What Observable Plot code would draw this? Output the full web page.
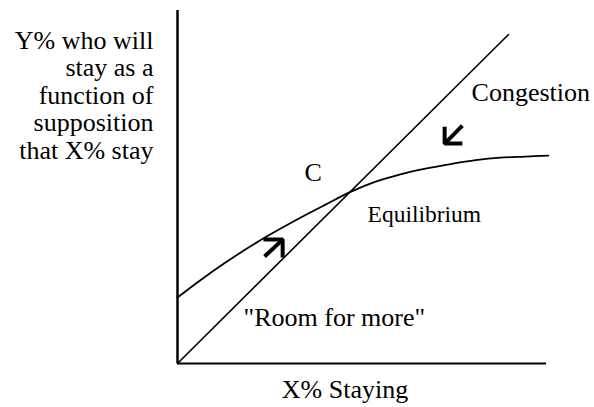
<!DOCTYPE html>
<html><head><meta charset="utf-8">
<script src="https://cdn.jsdelivr.net/npm/d3@7"></script>
<script src="https://cdn.jsdelivr.net/npm/@observablehq/plot@0.6"></script>
<style>html,body{margin:0;padding:0;background:#fff;} #chart{width:594px;height:407px;} svg text{font-family:'Liberation Serif','Times New Roman',serif !important;}</style>
</head><body><div id="chart"></div>
<script>
// Response curve: Y% who will stay as a function of X% staying
const curveX = [0, 6.2, 13.0, 19.8, 25.2, 33.3, 40.1, 46.9, 53.7, 60.4, 67.2, 74.0, 80.8, 87.5, 94.3, 100.5];
const curveY = [18.7, 23.6, 28.6, 33.2, 36.6, 41.3, 45.0, 48.6, 51.5, 53.6, 55.2, 56.5, 57.6, 58.3, 58.6, 58.9];
// 45-degree reference line
const diagonalX = [0, 89.7];
const diagonalY = [0, 93.2];
// Arrows (tail -> tip) and the ends of the two head arms
const arrowTailX = [23.6, 77.2];
const arrowTailY = [30.3, 67.4];
const arrowTipX = [28.5, 72.4];
const arrowTipY = [35.1, 62.3];
const arrowArmAX = [23.3, 72.4];
const arrowArmAY = [35.1, 67.1];
const arrowArmBX = [28.5, 77.2];
const arrowArmBY = [30.0, 62.3];
// Texts
const yTitle = "Y% who will\nstay as a\nfunction of\nsupposition\nthat X% stay";
const xTitle = "X% Staying";
const noteText = ["C", "Congestion", "\"Room for more\""];
const noteX = [34.4, 79.7, 17.9];
const noteY = [51.8, 74.5, 10.5];
const eqText = "Equilibrium";

const curve = curveX.map((x, i) => ({x, y: curveY[i]}));
const diagonal = diagonalX.map((x, i) => ({x, y: diagonalY[i]}));
const shafts = arrowTailX.map((x, i) => ({x1: x, y1: arrowTailY[i], x2: arrowTipX[i], y2: arrowTipY[i]}));
const heads = arrowTipX.flatMap((x, i) => [
  {x: arrowArmAX[i], y: arrowArmAY[i], z: i},
  {x, y: arrowTipY[i], z: i},
  {x: arrowArmBX[i], y: arrowArmBY[i], z: i}
]);
const notes = noteText.map((t, i) => ({t, x: noteX[i], y: noteY[i]}));

const font = "'Liberation Serif', 'Times New Roman', serif";
const chart = Plot.plot({
  width: 594, height: 407,
  marginLeft: 177, marginRight: 48, marginTop: 10, marginBottom: 44,
  x: {domain: [0, 100], axis: null},
  y: {domain: [0, 100], axis: null},
  style: {background: "white", color: "black", fontFamily: font},
  marks: [
    Plot.ruleX([0], {y1: 0, y2: 100, stroke: "black", strokeWidth: 2.5}),
    Plot.ruleY([0], {x1: 0, x2: 100, stroke: "black", strokeWidth: 2}),
    Plot.line(diagonal, {x: "x", y: "y", stroke: "black", strokeWidth: 1.6}),
    Plot.line(curve, {x: "x", y: "y", stroke: "black", strokeWidth: 1.8, curve: "catmull-rom"}),
    Plot.link(shafts, {x1: "x1", y1: "y1", x2: "x2", y2: "y2", stroke: "black", strokeWidth: 4}),
    Plot.line(heads, {x: "x", y: "y", z: "z", stroke: "black", strokeWidth: 4, strokeLinejoin: "miter", strokeLinecap: "butt"}),
    Plot.text(notes, {x: "x", y: "y", text: "t", textAnchor: "start", lineAnchor: "bottom", fontSize: 26, fontFamily: font, fill: "black"}),
    Plot.text([eqText], {x: 51.5, y: 40.2, textAnchor: "start", lineAnchor: "bottom", fontSize: 23.5, fontFamily: font, fill: "black"}),
    Plot.text([yTitle], {frameAnchor: "top-left", dx: -24, dy: 18.5, textAnchor: "end", lineAnchor: "top", lineHeight: 1.06, fontSize: 26, fontFamily: font, fill: "black"}),
    Plot.text([xTitle], {frameAnchor: "bottom", dx: -17, dy: 16.5, lineAnchor: "top", fontSize: 26, fontFamily: font, fill: "black"})
  ]
});
document.getElementById("chart").appendChild(chart);
</script>
</body></html>
